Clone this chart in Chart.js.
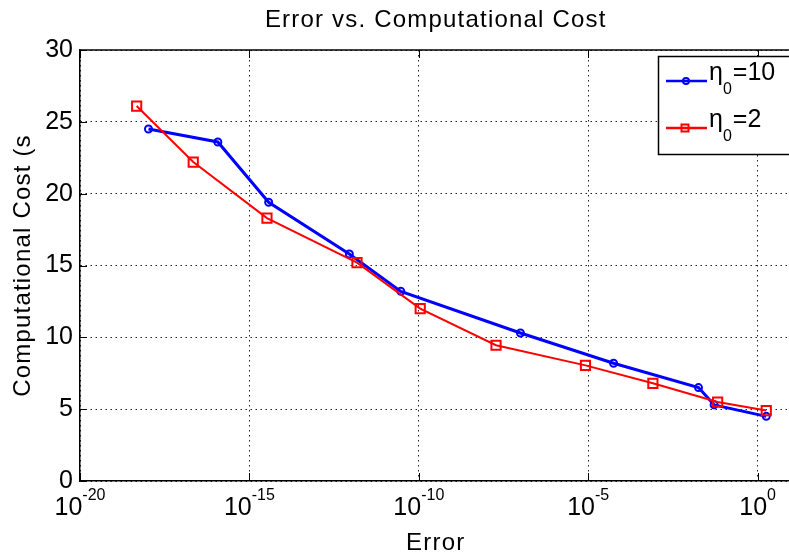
<!doctype html>
<html lang="en">
  <head>
    <meta charset="utf-8">
    <title>Error vs. Computational Cost</title>
    <script src="https://cdn.jsdelivr.net/npm/chart.js"></script>
    <style>
        html, body { margin: 0; padding: 0; overflow: hidden; background: #fff; }
        #wrap { width: 800px; height: 554px; }
    </style>
  </head>
  <body>
    <div id="wrap"><canvas id="costChart" width="800" height="554"></canvas></div>

    <script>
        // error / cost pairs for the two starting values
        const eta10Error = [1.05e-18, 1.17e-16, 3.7e-15, 8.9e-13, 2.95e-11, 1.0e-7, 5.6e-5, 1.8e-2, 5.2e-2, 1.8]
        const eta10Cost  = [24.5, 23.6, 19.4, 15.8, 13.2, 10.3, 8.2, 6.5, 5.3, 4.5]
        const eta2Error  = [4.7e-19, 2.2e-17, 3.3e-15, 1.5e-12, 1.1e-10, 1.9e-8, 8.3e-6, 8.1e-4, 6.6e-2, 1.8]
        const eta2Cost   = [26.1, 22.2, 18.3, 15.2, 12.0, 9.45, 8.05, 6.8, 5.5, 4.9]

        const xTickExponents = [-20, -15, -10, -5, 0]
        const yTicks = [0, 5, 10, 15, 20, 25, 30]
        const seriesLabels = ['10', '2']

        const FONT = '"Liberation Sans", Arial, Helvetica, sans-serif'

        const toPoints = (xs, ys) => xs.map((x, i) => ({ x: x, y: ys[i] }))

        function drawText(ctx, text, x, y, size, align) {
            ctx.font = size + 'px ' + FONT
            ctx.textAlign = align || 'left'
            ctx.textBaseline = 'alphabetic'
            ctx.fillText(text, x, y)
            return ctx.measureText(text).width
        }

        // axes box, inward ticks, power-of-ten labels, titles and legend
        const FramePlugin = {
            id: 'frame',
            afterDraw(chart) {
                const ctx = chart.ctx
                const area = chart.chartArea
                const xs = chart.scales.x
                const ys = chart.scales.y
                ctx.save()
                ctx.fillStyle = '#000'
                ctx.strokeStyle = '#000'
                ctx.lineWidth = 1.5
                ctx.letterSpacing = '0px'

                // top edge of the box
                ctx.beginPath()
                ctx.moveTo(area.left, area.top)
                ctx.lineTo(area.right, area.top)
                ctx.stroke()

                // ticks pointing into the plot
                ctx.lineWidth = 1
                xTickExponents.forEach(e => {
                    const px = Math.round(xs.getPixelForValue(Math.pow(10, e))) + 0.5
                    ctx.beginPath()
                    ctx.moveTo(px, area.bottom); ctx.lineTo(px, area.bottom - 8)
                    ctx.moveTo(px, area.top); ctx.lineTo(px, area.top + 8)
                    ctx.stroke()
                })
                yTicks.forEach(v => {
                    const py = Math.round(ys.getPixelForValue(v)) + 0.5
                    ctx.beginPath()
                    ctx.moveTo(area.left, py); ctx.lineTo(area.left + 7, py)
                    ctx.stroke()
                })

                // 10^n labels under the x axis
                xTickExponents.forEach(e => {
                    const px = xs.getPixelForValue(Math.pow(10, e))
                    ctx.font = '25px ' + FONT
                    const baseW = ctx.measureText('10').width
                    ctx.font = '16px ' + FONT
                    const expW = ctx.measureText(String(e)).width
                    const left = px - (baseW + expW) / 2
                    drawText(ctx, '10', left, 515, 25)
                    drawText(ctx, String(e), left + baseW, 500, 16)
                })

                const midX = (area.left + area.right) / 2
                ctx.letterSpacing = '1.2px'
                drawText(ctx, 'Error vs. Computational Cost', midX, 27, 24, 'center')
                drawText(ctx, 'Error', midX, 550, 24, 'center')

                ctx.save()
                ctx.translate(30, (area.top + area.bottom) / 2)
                ctx.rotate(-Math.PI / 2)
                drawText(ctx, 'Computational Cost (s', 0, 0, 24, 'center')
                ctx.restore()
                ctx.letterSpacing = '0px'

                // legend
                const box = { x: 658.5, y: 56.5, w: 160, h: 98 }
                ctx.fillStyle = '#fff'
                ctx.fillRect(box.x, box.y, box.w, box.h)
                ctx.strokeStyle = '#000'
                ctx.lineWidth = 1.5
                ctx.strokeRect(box.x, box.y, box.w, box.h)

                chart.data.datasets.slice().sort((a, b) => b.order - a.order).forEach((ds, i) => {
                    const ly = 81 + i * 47
                    ctx.strokeStyle = ds.borderColor
                    ctx.lineWidth = 2.5
                    ctx.beginPath()
                    ctx.moveTo(666, ly); ctx.lineTo(707, ly)
                    ctx.stroke()
                    ctx.lineWidth = 2
                    ctx.beginPath()
                    if (ds.pointStyle === 'rect') {
                        ctx.rect(681.5, ly - 3.5, 7, 7)
                    } else {
                        ctx.arc(686, ly, 3, 0, Math.PI * 2)
                    }
                    ctx.stroke()

                    ctx.fillStyle = '#000'
                    let tx = 709
                    tx += drawText(ctx, '\u03b7', tx, ly - 1, 25)
                    tx += drawText(ctx, '0', tx, ly + 13, 16)
                    drawText(ctx, '=' + seriesLabels[i], tx + 1, ly - 1, 25)
                })
                ctx.restore()
            }
        }

        new Chart(document.getElementById('costChart'), {
            type: 'scatter',
            data: {
                datasets: [
                    {
                        label: '\u03b70=10',
                        data: toPoints(eta10Error, eta10Cost),
                        showLine: true,
                        borderColor: '#0000ff',
                        borderWidth: 3,
                        pointStyle: 'circle',
                        pointRadius: 3.5,
                        pointBorderWidth: 2,
                        pointBackgroundColor: 'rgba(0,0,0,0)',
                        order: 1
                    },
                    {
                        label: '\u03b70=2',
                        data: toPoints(eta2Error, eta2Cost),
                        showLine: true,
                        borderColor: '#ff0000',
                        borderWidth: 2,
                        pointStyle: 'rect',
                        pointRadius: 6.5,
                        pointBorderWidth: 2,
                        pointBackgroundColor: 'rgba(0,0,0,0)',
                        order: 0
                    }
                ]
            },
            options: {
                responsive: false,
                animation: false,
                devicePixelRatio: 1,
                layout: { padding: { top: 50, right: 4, left: 0, bottom: 0 } },
                plugins: {
                    legend: { display: false },
                    tooltip: { enabled: false },
                    title: { display: false }
                },
                elements: { line: { tension: 0 } },
                scales: {
                    x: {
                        type: 'logarithmic',
                        min: 1e-20,
                        max: 10,
                        afterBuildTicks: (scale) => {
                            scale.ticks = xTickExponents.map(e => ({ value: Math.pow(10, e) }))
                        },
                        afterFit: (scale) => { scale.height = 73 },
                        ticks: { display: false },
                        grid: { color: '#222', lineWidth: 1, drawTicks: false },
                        border: { color: '#000', width: 1.5, dash: [1.5, 3.5] }
                    },
                    y: {
                        min: 0,
                        max: 30,
                        afterBuildTicks: (scale) => {
                            scale.ticks = yTicks.map(v => ({ value: v }))
                        },
                        afterFit: (scale) => { scale.width = 80 },
                        ticks: {
                            color: '#000',
                            padding: 7,
                            font: { family: FONT, size: 25 }
                        },
                        grid: { color: '#222', lineWidth: 1, drawTicks: false },
                        border: { color: '#000', width: 1.5, dash: [1.5, 3.5] }
                    }
                }
            },
            plugins: [FramePlugin]
        })
    </script>
  </body>
</html>
